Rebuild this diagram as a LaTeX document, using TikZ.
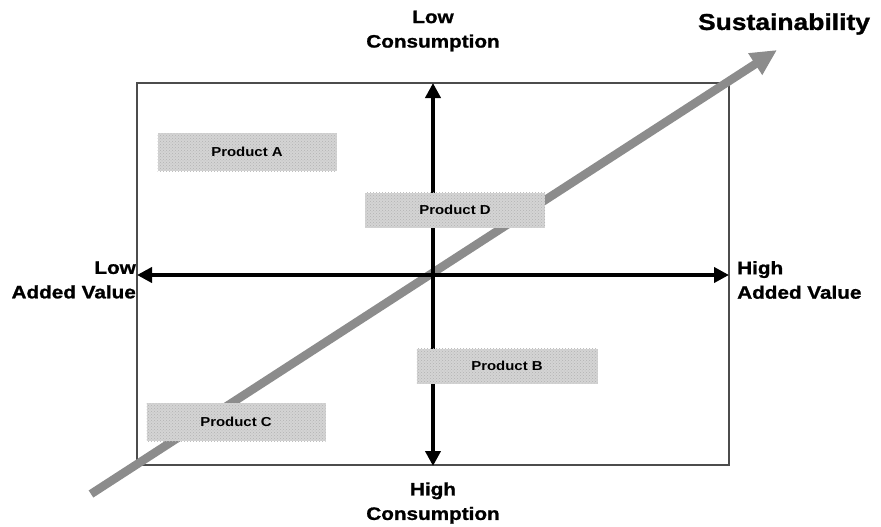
\documentclass[tikz,border=0pt]{standalone}
\usepackage{fontspec}
\setmainfont{Liberation Sans}
\newfontfamily\labfont[FakeStretch=1.15]{Liberation Sans}
\newfontfamily\heavyfont[FakeStretch=1.15,FakeBold=1.2]{Liberation Sans}
\usetikzlibrary{arrows.meta,patterns}
\begin{document}
\begin{tikzpicture}[x=1pt,y=-1pt,
  frame/.style={draw=black!70, line width=1.3pt},
  product/.style={fill=black!17, minimum width=179pt, minimum height=38pt, inner sep=0pt,
    postaction={pattern=crosshatch dots, pattern color=black!30},
    font=\labfont\bfseries\fontsize{13}{15}\selectfont},
  axislabel/.style={font=\heavyfont\bfseries\fontsize{18}{24.5}\selectfont, inner sep=0pt},
  axis/.style={line width=4pt, -{Triangle[length=15pt,width=15pt]}},
  trend/.style={draw=black!45, line width=8.5pt, -{Triangle[length=26pt,width=24pt]}}]
\useasboundingbox (0,0) rectangle (881,527);

% quadrant frame
\draw[frame] (137,83) rectangle (729,465);

% key points of the axes and the trend line
\coordinate (o) at (433,275);
\coordinate (top) at (433,83);
\coordinate (bot) at (433,466);
\coordinate (lft) at (137,275);
\coordinate (rgt) at (729,275);
\coordinate (ts) at (91,494);
\coordinate (te) at (777,50);

% sustainability trend arrow (behind everything else)
\draw[trend] (ts) -- (te);

% axes
\draw[axis] (o) -- (top);
\draw[axis] (o) -- (bot);
\draw[axis] (o) -- (lft);
\draw[axis] (o) -- (rgt);

% products
\node[product] (pa) at (247,152) {Product A};
\node[product, minimum width=180pt, minimum height=35pt] (pd) at (455,210) {Product D};
\node[product, minimum width=181pt, minimum height=35pt] (pb) at (507,366) {Product B};
\node[product] (pc) at (236,422) {Product C};

% axis labels
\node[axislabel, align=center] (lc) at (433,31) {Low\\Consumption};
\node[axislabel, align=center] (hc) at (433,503) {High\\Consumption};
\node[axislabel, align=right, anchor=east] (lv) at (136,280) {Low\\Added Value};
\node[axislabel, align=left, anchor=west] (hv) at (737,280) {High\\Added Value};
\node[font=\heavyfont\bfseries\fontsize{23}{27}\selectfont, inner sep=0pt] (sus) at (784,24) {Sustainability};
\end{tikzpicture}
\end{document}
